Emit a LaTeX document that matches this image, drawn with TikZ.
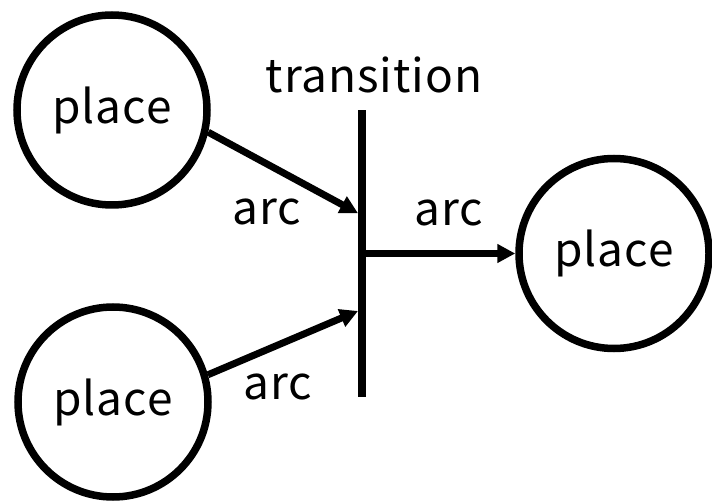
\documentclass[tikz,border=0pt]{standalone}
\usepackage{fontspec}
\setmainfont{Noto Sans CJK JP}
\usetikzlibrary{arrows.meta,calc}
\begin{document}
\begin{tikzpicture}[x=1pt,y=1pt,
  txt/.style={font=\fontsize{46}{54}\selectfont\addfontfeatures{LetterSpace=2}},
  place/.style={circle,draw,line width=7.5pt,minimum size=190pt,inner sep=0pt,txt},
  arc/.style={line width=7pt,-{Triangle[length=18pt,width=18pt]}},
  lbl/.style={txt,inner sep=0pt}]
  \useasboundingbox (0,0) rectangle (712,501);
  % places
  \node[place] (p1) at (112,391) {place};
  \node[place] (p2) at (113,99) {place};
  \node[place] (p3) at (614,247.5) {place};
  % transition bar
  \node[fill,minimum width=7.5pt,minimum height=287pt,inner sep=0pt] (t) at (362,247.5) {};
  \coordinate (in1) at ($(t.north west)!0.36!(t.south west)$);
  \coordinate (in2) at ($(t.north west)!0.70!(t.south west)$);
  % arcs
  \draw[arc] (p1.-13) -- (in1);
  \draw[arc] (p2.16) -- (in2);
  \draw[arc] (t.east) -- (p3.west);
  % labels
  \node[lbl] (lt) at (374,426) {transition};
  \node[lbl] (l1) at (267,289) {arc};
  \node[lbl] (l2) at (278,114) {arc};
  \node[lbl] (l3) at (449,288) {arc};
\end{tikzpicture}
\end{document}
